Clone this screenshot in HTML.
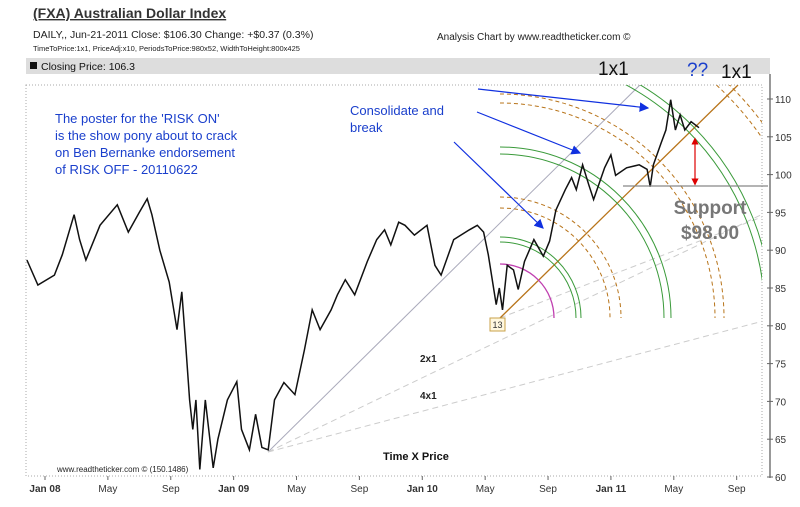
<!DOCTYPE html>
<html><head><meta charset="utf-8">
<style>
body{margin:0;background:#fff;width:800px;height:507px;overflow:hidden;font-family:"Liberation Sans",sans-serif;}
svg{position:absolute;left:0;top:0}
</style></head>
<body>
<svg width="800" height="507" xmlns="http://www.w3.org/2000/svg">
  <g>
    <text x="33" y="18" font-size="14" font-weight="bold" fill="#333" text-decoration="underline">(FXA) Australian Dollar Index</text>
    <text x="33" y="38" font-size="10.5" fill="#222">DAILY,, Jun-21-2011   Close: $106.30  Change: +$0.37  (0.3%)</text>
    <text x="33" y="51" font-size="7.5" fill="#222">TimeToPrice:1x1, PriceAdj:x10, PeriodsToPrice:980x52, WidthToHeight:800x425</text>
    <text x="437" y="40" font-size="10" fill="#222">Analysis Chart by www.readtheticker.com ©</text>
    <rect x="26" y="58" width="744" height="16" fill="#ddd"/>
    <rect x="30" y="62" width="7" height="7" fill="#111"/>
    <text x="41" y="70" font-size="10.5" fill="#111">Closing Price: 106.3</text>
  </g>
  <rect x="26" y="85" width="736" height="391" fill="none" stroke="#aaa" stroke-dasharray="1,2"/>
  <line x1="770" y1="74" x2="770" y2="478" stroke="#999" stroke-width="2"/>
  <g id="yaxis"></g>
  <g id="xaxis"></g>
  <defs><clipPath id="pc"><rect x="26" y="85" width="736" height="391"/></clipPath></defs>
  <g clip-path="url(#pc)" id="overlay">
    <line x1="268" y1="452" x2="645" y2="80" stroke="#aab" stroke-width="1"/>
    <line x1="268" y1="452" x2="767" y2="212" stroke="#ccc" stroke-dasharray="6,4"/>
    <line x1="268" y1="452" x2="767" y2="320" stroke="#ccc" stroke-dasharray="6,4"/>
    <line x1="500" y1="318" x2="767" y2="215" stroke="#ccc" stroke-dasharray="6,4"/>
    <line x1="500" y1="318" x2="738" y2="85" stroke="#b8741a" stroke-width="1.3"/>
    <g id="arcs"></g>
  </g>
  <polyline id="price" fill="none" stroke="#111" stroke-width="1.5"/>
  <g>
    <g font-size="13" fill="#1a3fcc">
      <text x="55" y="123">The poster for the 'RISK ON'</text>
      <text x="55" y="140">is the show pony about to crack</text>
      <text x="55" y="157">on Ben Bernanke endorsement</text>
      <text x="55" y="174">of RISK OFF - 20110622</text>
    </g>
    <text x="350" y="115" font-size="13" fill="#1a3fcc">Consolidate and</text>
    <text x="350" y="132" font-size="13" fill="#1a3fcc">break</text>
    <defs><marker id="ah" markerWidth="8" markerHeight="8" refX="7" refY="4" orient="auto"><path d="M0,0L8,4L0,8z" fill="#1030e0"/></marker>
    <marker id="rh" markerWidth="6" markerHeight="6" refX="3" refY="3" orient="auto-start-reverse"><path d="M0,0L6,3L0,6z" fill="#d00"/></marker></defs>
    <line x1="478" y1="89" x2="648" y2="108" stroke="#1030e0" stroke-width="1.2" marker-end="url(#ah)"/>
    <line x1="477" y1="112" x2="580" y2="153" stroke="#1030e0" stroke-width="1.2" marker-end="url(#ah)"/>
    <line x1="454" y1="142" x2="543" y2="228" stroke="#1030e0" stroke-width="1.2" marker-end="url(#ah)"/>
    <line x1="623" y1="186" x2="768" y2="186" stroke="#888" stroke-width="1.2"/>
    <line x1="695" y1="141" x2="695" y2="182" stroke="#d00" stroke-width="1.2" marker-start="url(#rh)" marker-end="url(#rh)"/>
    <text x="710" y="214" font-size="19" font-weight="bold" fill="#777" text-anchor="middle">Support</text>
    <text x="710" y="239" font-size="19" font-weight="bold" fill="#777" text-anchor="middle">$98.00</text>
    <text x="598" y="75" font-size="19" fill="#111">1x1</text>
    <text x="687" y="76" font-size="19" fill="#1a3fcc">??</text>
    <text x="721" y="78" font-size="19" fill="#111">1x1</text>
    <text x="420" y="362" font-size="10" font-weight="bold" fill="#222">2x1</text>
    <text x="420" y="399" font-size="10" font-weight="bold" fill="#222">4x1</text>
    <text x="383" y="460" font-size="11" font-weight="bold" fill="#111">Time X Price</text>
    <text x="57" y="472" font-size="8" fill="#222">www.readtheticker.com © (150.1486)</text>
    <rect x="490" y="318" width="15" height="13" fill="#fff8e0" stroke="#c9a24a"/>
    <text x="497.5" y="328" font-size="9" text-anchor="middle" fill="#333">13</text>
  </g>
</svg>
<script>
const yTicks=[60,65,70,75,80,85,90,95,100,105,110];
const xTickLabels=["Jan 08","May","Sep","Jan 09","May","Sep","Jan 10","May","Sep","Jan 11","May","Sep"];
const xTickMonths=[0,4,8,12,16,20,24,28,32,36,40,44];
const months=[-1.15,-0.45,0.6,1.1,1.85,2.2,2.6,3.5,4.6,5.3,6.0,6.5,6.8,7.3,7.9,8.4,8.7,8.95,9.2,9.4,9.6,9.85,10.2,10.7,11.0,11.6,12.2,12.5,13.0,13.4,13.8,14.2,14.6,15.2,15.9,16.5,17.0,17.5,18.2,18.6,19.1,19.7,20.5,21.1,21.6,22.0,22.5,22.9,23.5,24.3,24.8,25.2,26.0,27.0,27.5,27.9,28.2,28.7,28.9,29.1,29.4,29.8,30.1,30.5,31.1,31.7,32.1,32.5,33.1,33.5,33.8,34.2,34.6,34.9,35.6,36.0,36.3,37.0,37.8,38.3,38.5,38.7,39.2,39.5,39.8,40.1,40.4,40.7,41.1,41.6];
const prices=[88.7,85.4,86.7,89.4,94.7,91.4,88.7,93.3,96.0,92.4,95.0,96.8,94.7,90.0,85.8,79.5,84.5,77.5,70.2,66.3,70.2,61.0,70.2,61.2,65.0,70.2,72.6,66.3,63.6,68.3,63.9,63.6,70.2,72.5,70.9,76.8,82.1,79.5,82.1,84.1,86.1,84.1,88.5,91.4,92.7,90.7,93.7,93.3,92.0,93.3,88.0,86.7,91.4,92.7,93.3,92.4,89.4,82.8,85.0,82.1,88.0,87.4,84.8,88.5,91.4,89.2,91.2,95.3,98.0,99.6,98.0,101.3,98.6,96.7,100.9,102.6,99.9,100.9,101.3,100.7,98.4,101.3,104.2,105.9,109.9,105.9,107.9,105.9,107.0,106.2];
const NS="http://www.w3.org/2000/svg";
function xs(m){return 45+m*15.72;}
function ys(v){return 477-(v-60)*7.56;}
const ya=document.getElementById('yaxis');
yTicks.forEach(v=>{
  const l=document.createElementNS(NS,'line');
  l.setAttribute('x1',767);l.setAttribute('x2',773);l.setAttribute('y1',ys(v));l.setAttribute('y2',ys(v));l.setAttribute('stroke','#666');
  
  
  ya.appendChild(l);
  const t=document.createElementNS(NS,'text');
  t.setAttribute('x',775);t.setAttribute('y',ys(v)+4);t.setAttribute('font-size','10');t.setAttribute('fill','#333');
  t.textContent=v;
  
  
  ya.appendChild(t);
});
const xa=document.getElementById('xaxis');
xTickLabels.forEach((s,i)=>{
  const x=xs(xTickMonths[i]);
  const l=document.createElementNS(NS,'line');
  l.setAttribute('x1',x);l.setAttribute('x2',x);l.setAttribute('y1',476);l.setAttribute('y2',480);l.setAttribute('stroke','#666');
  
  
  xa.appendChild(l);
  const t=document.createElementNS(NS,'text');
  t.setAttribute('x',x);t.setAttribute('y',492);t.setAttribute('font-size','10');t.setAttribute('text-anchor','middle');t.setAttribute('fill','#333');
  if(s.startsWith('Jan'))t.setAttribute('font-weight','bold');
  t.textContent=s;
  
  
  xa.appendChild(t);
});
document.getElementById('price').setAttribute('points',months.map((m,i)=>xs(m).toFixed(1)+','+ys(prices[i]).toFixed(1)).join(' '));
const arcs=document.getElementById('arcs');
const cx=500,cy=318;
[[54,'#c040b0',1.3,''],[76,'#3a9a3a',1,''],[81,'#3a9a3a',1,''],[110,'#b8741a',1,'4,3'],[121,'#b8741a',1,'4,3'],[164,'#3a9a3a',1,''],[171,'#3a9a3a',1,''],[215,'#b8741a',1,'4,3'],[224,'#b8741a',1,'4,3'],[265,'#3a9a3a',1,''],[272,'#3a9a3a',1,''],[318,'#b8741a',1,'4,3'],[327,'#b8741a',1,'4,3']].forEach(a=>{
  const p=document.createElementNS(NS,'path');
  const r=a[0];
  p.setAttribute('d',`M${cx},${cy-r} A${r},${r} 0 0 1 ${cx+r},${cy}`);
  p.setAttribute('fill','none');p.setAttribute('stroke',a[1]);p.setAttribute('stroke-width',a[2]);
  if(a[3])p.setAttribute('stroke-dasharray',a[3]);
  
  
  arcs.appendChild(p);
});
</script>
</body></html>
